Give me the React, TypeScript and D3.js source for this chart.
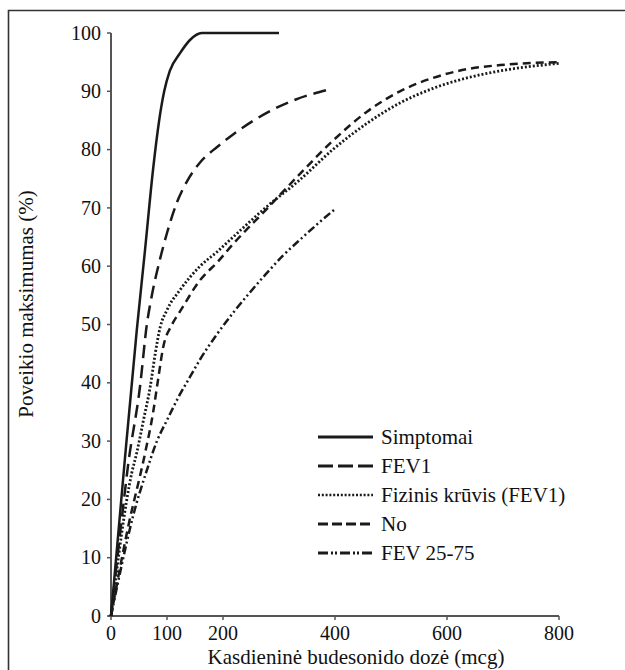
import React from 'react';
import * as d3 from 'd3';

// dose (mcg) / effect (% of max)
const simptomai: [number, number][] = [
  [0, 0], [23, 25], [46, 49], [61, 63], [75, 76.5], [86, 85], [95, 90], [105, 93.5],
  [123, 96.5], [141, 98.8], [162, 100], [300, 100],
];
const fev1: [number, number][] = [
  [0, 0], [22, 19], [30, 25.5], [52, 39.5], [64, 50], [73, 55], [87, 61], [100, 65.7],
  [118, 71], [136, 74.6], [159, 77.8], [190, 80.5], [218, 82.6], [278, 86.3], [330, 88.6],
  [385, 90.2],
];
const fizinis: [number, number][] = [
  [0, 0], [37, 24.5], [46, 28], [58, 33.6], [70, 39.3], [79, 45], [88, 49.6], [100, 52.5],
  [123, 55.9], [159, 60], [191, 62.6], [218, 65], [278, 70.2], [337, 74.8], [396, 80],
  [457, 84.5], [516, 88], [575, 90.5], [636, 92.3], [695, 93.5], [800, 94.8],
];
const no: [number, number][] = [
  [0, 0], [30, 15], [61, 28], [75, 34.8], [84, 40.5], [93, 46], [109, 50], [123, 52.2],
  [159, 57.6], [191, 60.8], [218, 63.8], [278, 69.8], [337, 75.8], [396, 81.5], [457, 86.5],
  [516, 90], [575, 92.3], [636, 93.8], [695, 94.5], [800, 95],
];
const fev2575: [number, number][] = [
  [0, 0], [22, 10], [39, 17], [64, 25], [82, 30], [100, 33.6], [123, 38], [141, 41],
  [159, 44], [189, 48.3], [218, 52], [248, 55.5], [278, 58.8], [307, 61.8], [337, 64.5],
  [373, 67.6], [400, 69.8],
];

const seriesNames = ['Simptomai', 'FEV1', 'Fizinis krūvis (FEV1)', 'No', 'FEV 25-75'];
const seriesData = [simptomai, fev1, fizinis, no, fev2575];
const dashes = ['none', '13,7', '2,2', '8,5', '8,3,2,3,2,3'];
const legendDashes = ['none', '15,5', '2,1.8', '10,4', '10,3,2,2,2,3'];

const yTicks = [0, 10, 20, 30, 40, 50, 60, 70, 80, 90, 100];
const xTicks = [0, 100, 200, 400, 600, 800];

const FONT = 'Liberation Serif';
const INK = '#111';
const AXIS = '#555';

export default function App() {
  const x = d3.scaleLinear().domain([0, 800]).range([111, 559]);
  const y = d3.scaleLinear().domain([0, 100]).range([616, 33]);

  const line = d3.line<[number, number]>()
    .x(d => x(d[0]))
    .y(d => y(d[1]))
    .curve(d3.curveMonotoneX);

  return (
    <div style={{ position: 'absolute', left: 0, top: 0, width: 625, height: 670 }}>
      <svg width={625} height={670}>
        <rect width={625} height={670} fill="#fff" />
        {/* frame, cut off at right and bottom */}
        <path d="M8.5,670V10.5H625" fill="none" stroke="#333" strokeWidth={1.6} />

        {/* y axis */}
        <line x1={x(0)} x2={x(0)} y1={y(100)} y2={y(0)} stroke={AXIS} strokeWidth={2} />
        {yTicks.map(t => (
          <g key={t} transform={`translate(${x(0)},${y(t)})`}>
            <line x1={-4} x2={0} stroke={AXIS} strokeWidth={1.5} />
            <text x={-10} dy="0.33em" textAnchor="end" fontFamily={FONT} fontSize={20} fill={INK}>
              {t}
            </text>
          </g>
        ))}

        {/* x axis */}
        <line x1={x(0) - 3} x2={x(800)} y1={y(0)} y2={y(0)} stroke={AXIS} strokeWidth={2} />
        {xTicks.map(t => (
          <g key={t} transform={`translate(${x(t)},${y(0)})`}>
            <line y1={0} y2={4} stroke={AXIS} strokeWidth={1.5} />
            <text y={24} textAnchor="middle" fontFamily={FONT} fontSize={20} fill={INK}>
              {t}
            </text>
          </g>
        ))}

        <text x={356} y={664} textAnchor="middle" fontFamily={FONT} fontSize={21} fill={INK}>
          Kasdieninė budesonido dozė (mcg)
        </text>
        <text transform="translate(33,304) rotate(-90)" textAnchor="middle" fontFamily={FONT} fontSize={21} fill={INK}>
          Poveikio maksimumas (%)
        </text>

        {/* curves */}
        {seriesData.map((data, i) => (
          <path
            key={seriesNames[i]}
            d={line(data) ?? ''}
            fill="none"
            stroke="#1a1a1a"
            strokeWidth={i === 2 ? 2.8 : 2.5}
            strokeDasharray={dashes[i]}
          />
        ))}

        {/* legend */}
        {seriesNames.map((name, i) => {
          const ly = 437 + i * 29;
          return (
            <g key={name}>
              <line x1={318} x2={373} y1={ly} y2={ly} stroke="#1a1a1a"
                strokeWidth={i === 2 ? 2.6 : 2.8} strokeDasharray={legendDashes[i]} />
              <text x={381} y={ly} dy="0.33em" fontFamily={FONT} fontSize={21} fill={INK}>
                {name}
              </text>
            </g>
          );
        })}
      </svg>
    </div>
  );
}
